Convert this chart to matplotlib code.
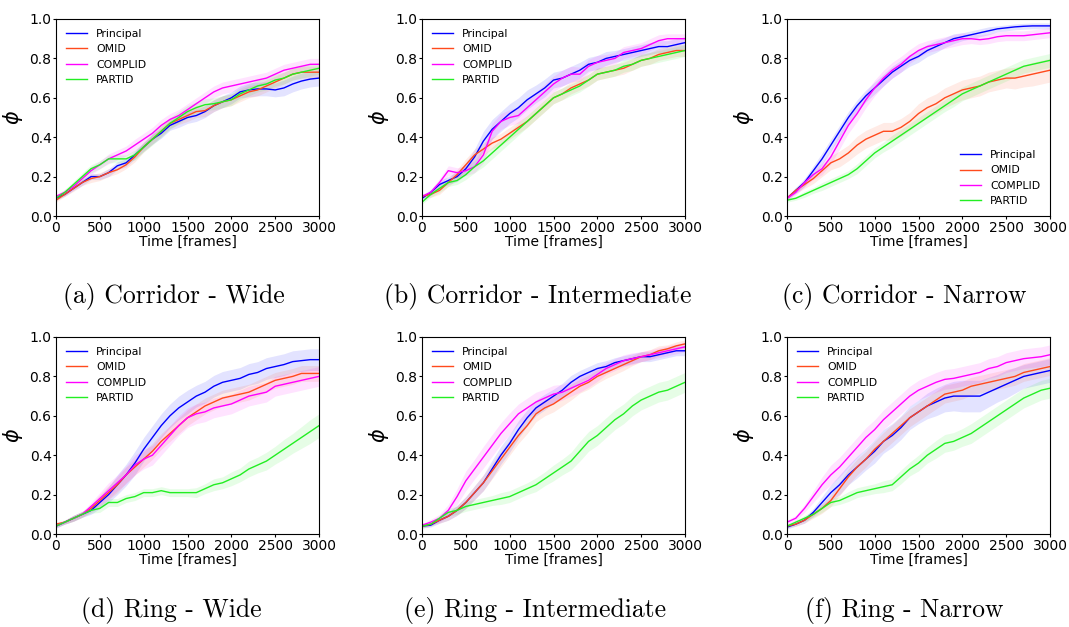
import numpy as np
import matplotlib
matplotlib.use("Agg")
import matplotlib.pyplot as plt

frames = list(range(0, 3001, 100))
series_names = ["Principal", "OMID", "COMPLID", "PARTID"]
series_colors = ["#0000ff", "#ff4a1c", "#ff00ff", "#22ee22"]
captions = ["(a) Corridor - Wide", "(b) Corridor - Intermediate", "(c) Corridor - Narrow",
            "(d) Ring - Wide", "(e) Ring - Intermediate", "(f) Ring - Narrow"]

# ---- (a) Corridor - Wide ----
cw_principal = [0.09,0.11,0.14,0.17,0.20,0.20,0.22,0.255,0.27,0.31,0.35,0.39,0.42,0.46,0.48,0.50,0.51,0.53,0.56,0.58,0.60,0.63,0.64,0.645,0.645,0.64,0.65,0.67,0.685,0.695,0.70]
cw_omid      = [0.08,0.11,0.14,0.17,0.19,0.20,0.22,0.235,0.26,0.30,0.35,0.39,0.43,0.47,0.49,0.51,0.53,0.535,0.56,0.58,0.59,0.61,0.63,0.64,0.66,0.68,0.70,0.72,0.73,0.73,0.73]
cw_complid   = [0.10,0.12,0.15,0.19,0.23,0.26,0.29,0.31,0.33,0.36,0.39,0.42,0.46,0.49,0.51,0.54,0.57,0.60,0.63,0.65,0.66,0.67,0.68,0.69,0.70,0.72,0.74,0.75,0.76,0.77,0.77]
cw_partid    = [0.09,0.12,0.16,0.20,0.24,0.26,0.29,0.29,0.29,0.31,0.35,0.39,0.43,0.47,0.50,0.53,0.55,0.565,0.57,0.58,0.59,0.62,0.64,0.66,0.67,0.69,0.70,0.72,0.73,0.74,0.75]
cw_principal_sd = [0.01,0.01,0.01,0.015,0.015,0.015,0.02,0.02,0.02,0.02,0.02,0.025,0.025,0.025,0.03,0.03,0.03,0.03,0.03,0.03,0.03,0.03,0.035,0.035,0.035,0.035,0.04,0.04,0.04,0.04,0.04]
cw_omid_sd      = [0.01,0.01,0.015,0.015,0.02,0.02,0.02,0.02,0.02,0.025,0.025,0.025,0.025,0.025,0.025,0.03,0.03,0.03,0.03,0.03,0.03,0.03,0.03,0.03,0.03,0.03,0.03,0.03,0.03,0.03,0.03]
cw_complid_sd   = [0.01,0.015,0.015,0.02,0.02,0.02,0.025,0.025,0.025,0.03,0.03,0.03,0.03,0.03,0.03,0.03,0.03,0.03,0.03,0.03,0.03,0.03,0.03,0.03,0.03,0.03,0.03,0.03,0.03,0.03,0.03]
cw_partid_sd    = [0.01,0.015,0.015,0.02,0.02,0.02,0.02,0.02,0.02,0.025,0.025,0.03,0.03,0.03,0.03,0.03,0.03,0.03,0.03,0.03,0.03,0.03,0.03,0.03,0.03,0.03,0.03,0.03,0.03,0.03,0.03]

# ---- (b) Corridor - Intermediate ----
ci_principal = [0.09,0.12,0.16,0.18,0.20,0.24,0.30,0.38,0.44,0.48,0.52,0.55,0.59,0.62,0.65,0.69,0.70,0.72,0.74,0.77,0.78,0.80,0.81,0.82,0.83,0.84,0.85,0.86,0.86,0.87,0.88]
ci_omid      = [0.10,0.11,0.13,0.17,0.21,0.26,0.31,0.34,0.37,0.39,0.42,0.45,0.48,0.52,0.56,0.60,0.62,0.65,0.67,0.69,0.72,0.73,0.74,0.75,0.77,0.79,0.80,0.82,0.83,0.84,0.84]
ci_complid   = [0.10,0.12,0.17,0.23,0.22,0.23,0.25,0.31,0.43,0.48,0.50,0.51,0.55,0.59,0.63,0.67,0.70,0.72,0.72,0.76,0.78,0.79,0.80,0.83,0.84,0.85,0.87,0.89,0.90,0.90,0.90]
ci_partid    = [0.07,0.11,0.14,0.17,0.18,0.21,0.25,0.28,0.32,0.36,0.40,0.44,0.48,0.52,0.56,0.60,0.62,0.64,0.66,0.69,0.72,0.73,0.74,0.76,0.77,0.79,0.80,0.81,0.82,0.83,0.84]
ci_principal_sd = [0.01,0.015,0.02,0.02,0.025,0.03,0.04,0.05,0.05,0.05,0.05,0.05,0.05,0.045,0.045,0.04,0.04,0.04,0.04,0.035,0.035,0.035,0.03,0.03,0.03,0.03,0.03,0.03,0.03,0.03,0.03]
ci_omid_sd      = [0.01,0.015,0.02,0.02,0.025,0.03,0.03,0.03,0.03,0.03,0.03,0.03,0.03,0.03,0.03,0.03,0.03,0.03,0.03,0.03,0.03,0.03,0.03,0.03,0.03,0.03,0.03,0.03,0.03,0.03,0.03]
ci_complid_sd   = [0.01,0.015,0.02,0.025,0.025,0.025,0.03,0.04,0.04,0.04,0.04,0.04,0.04,0.04,0.04,0.04,0.04,0.04,0.035,0.035,0.035,0.03,0.03,0.03,0.03,0.03,0.03,0.03,0.025,0.025,0.025]
ci_partid_sd    = [0.01,0.015,0.02,0.02,0.02,0.025,0.03,0.03,0.03,0.03,0.03,0.03,0.03,0.03,0.03,0.03,0.03,0.03,0.03,0.03,0.03,0.03,0.03,0.03,0.03,0.03,0.03,0.03,0.03,0.03,0.03]

# ---- (c) Corridor - Narrow ----
cn_principal = [0.09,0.13,0.17,0.23,0.29,0.36,0.43,0.50,0.56,0.61,0.65,0.69,0.73,0.76,0.79,0.81,0.84,0.86,0.88,0.90,0.91,0.92,0.93,0.94,0.95,0.955,0.96,0.963,0.965,0.965,0.965]
cn_omid      = [0.09,0.13,0.16,0.19,0.23,0.27,0.29,0.32,0.36,0.39,0.41,0.43,0.43,0.45,0.48,0.52,0.55,0.57,0.60,0.62,0.64,0.65,0.66,0.68,0.69,0.70,0.70,0.71,0.72,0.73,0.74]
cn_complid   = [0.09,0.12,0.17,0.21,0.24,0.30,0.38,0.46,0.52,0.59,0.65,0.70,0.74,0.77,0.81,0.84,0.86,0.87,0.88,0.89,0.90,0.90,0.895,0.90,0.91,0.915,0.915,0.915,0.92,0.925,0.93]
cn_partid    = [0.08,0.09,0.11,0.13,0.15,0.17,0.19,0.21,0.24,0.28,0.32,0.35,0.38,0.41,0.44,0.47,0.50,0.53,0.56,0.59,0.62,0.64,0.66,0.68,0.70,0.72,0.74,0.76,0.77,0.78,0.79]
cn_principal_sd = [0.01,0.015,0.02,0.025,0.03,0.03,0.03,0.03,0.03,0.03,0.03,0.03,0.03,0.03,0.03,0.03,0.03,0.03,0.025,0.025,0.02,0.02,0.02,0.02,0.015,0.015,0.015,0.015,0.015,0.015,0.015]
cn_omid_sd      = [0.01,0.015,0.02,0.025,0.03,0.035,0.04,0.04,0.045,0.045,0.045,0.045,0.045,0.045,0.045,0.05,0.05,0.05,0.05,0.05,0.05,0.05,0.05,0.05,0.05,0.05,0.055,0.055,0.06,0.06,0.06]
cn_complid_sd   = [0.01,0.015,0.02,0.025,0.03,0.035,0.04,0.04,0.04,0.04,0.04,0.04,0.04,0.04,0.035,0.035,0.03,0.03,0.03,0.03,0.03,0.025,0.025,0.025,0.025,0.025,0.025,0.025,0.025,0.025,0.025]
cn_partid_sd    = [0.01,0.01,0.015,0.015,0.02,0.02,0.02,0.02,0.025,0.025,0.025,0.025,0.03,0.03,0.03,0.03,0.03,0.03,0.03,0.035,0.035,0.035,0.035,0.035,0.035,0.035,0.035,0.035,0.035,0.035,0.035]

# ---- (d) Ring - Wide ----
rw_principal = [0.04,0.06,0.08,0.10,0.12,0.16,0.20,0.25,0.30,0.36,0.43,0.49,0.55,0.60,0.64,0.67,0.70,0.72,0.75,0.77,0.78,0.79,0.81,0.82,0.84,0.85,0.86,0.875,0.88,0.885,0.885]
rw_omid      = [0.05,0.06,0.08,0.10,0.13,0.17,0.21,0.25,0.30,0.34,0.38,0.42,0.47,0.51,0.55,0.59,0.62,0.65,0.67,0.69,0.70,0.71,0.72,0.74,0.76,0.78,0.79,0.80,0.815,0.815,0.815]
rw_complid   = [0.04,0.06,0.08,0.10,0.14,0.18,0.22,0.26,0.30,0.35,0.38,0.40,0.45,0.50,0.55,0.59,0.61,0.62,0.64,0.65,0.66,0.68,0.70,0.71,0.72,0.75,0.76,0.77,0.78,0.79,0.80]
rw_partid    = [0.04,0.06,0.08,0.10,0.12,0.13,0.16,0.16,0.18,0.19,0.21,0.21,0.22,0.21,0.21,0.21,0.21,0.23,0.25,0.26,0.28,0.30,0.33,0.35,0.37,0.40,0.43,0.46,0.49,0.52,0.55]
rw_principal_sd = [0.01,0.01,0.015,0.015,0.02,0.03,0.04,0.05,0.055,0.06,0.06,0.06,0.06,0.06,0.06,0.06,0.055,0.055,0.055,0.055,0.055,0.055,0.055,0.055,0.055,0.055,0.055,0.055,0.055,0.055,0.055]
rw_omid_sd      = [0.01,0.01,0.015,0.015,0.02,0.03,0.035,0.04,0.04,0.04,0.04,0.04,0.04,0.04,0.04,0.04,0.04,0.04,0.04,0.04,0.04,0.04,0.04,0.04,0.04,0.04,0.04,0.04,0.04,0.04,0.04]
rw_complid_sd   = [0.01,0.01,0.015,0.015,0.02,0.03,0.04,0.04,0.045,0.05,0.05,0.05,0.05,0.05,0.05,0.05,0.05,0.05,0.05,0.05,0.05,0.05,0.05,0.05,0.05,0.05,0.05,0.05,0.05,0.05,0.05]
rw_partid_sd    = [0.01,0.01,0.015,0.015,0.015,0.02,0.02,0.02,0.02,0.02,0.02,0.02,0.02,0.02,0.02,0.02,0.025,0.025,0.03,0.03,0.035,0.035,0.04,0.04,0.045,0.045,0.05,0.05,0.055,0.06,0.06]

# ---- (e) Ring - Intermediate ----
ri_principal = [0.04,0.045,0.07,0.09,0.12,0.16,0.21,0.26,0.33,0.40,0.46,0.53,0.59,0.64,0.67,0.70,0.73,0.77,0.80,0.82,0.84,0.85,0.87,0.88,0.89,0.90,0.90,0.91,0.92,0.93,0.93]
ri_omid      = [0.04,0.05,0.07,0.09,0.12,0.16,0.21,0.26,0.32,0.38,0.44,0.50,0.55,0.61,0.64,0.66,0.69,0.72,0.75,0.77,0.80,0.82,0.84,0.86,0.88,0.90,0.91,0.93,0.94,0.955,0.965]
ri_complid   = [0.045,0.06,0.08,0.12,0.19,0.27,0.33,0.39,0.45,0.51,0.56,0.61,0.64,0.67,0.69,0.71,0.72,0.74,0.76,0.78,0.81,0.84,0.86,0.88,0.89,0.90,0.91,0.92,0.93,0.94,0.95]
ri_partid    = [0.04,0.05,0.08,0.11,0.12,0.14,0.15,0.16,0.17,0.18,0.19,0.21,0.23,0.25,0.28,0.31,0.34,0.37,0.42,0.47,0.50,0.54,0.58,0.61,0.65,0.68,0.70,0.72,0.73,0.75,0.77]
ri_principal_sd = [0.01,0.01,0.015,0.02,0.025,0.03,0.035,0.04,0.045,0.045,0.045,0.045,0.04,0.04,0.04,0.035,0.035,0.035,0.03,0.03,0.03,0.03,0.025,0.025,0.025,0.025,0.025,0.025,0.025,0.025,0.025]
ri_omid_sd      = [0.01,0.01,0.015,0.02,0.025,0.03,0.035,0.04,0.04,0.04,0.04,0.04,0.04,0.04,0.04,0.04,0.04,0.04,0.035,0.035,0.035,0.03,0.03,0.03,0.025,0.025,0.025,0.025,0.02,0.02,0.02]
ri_complid_sd   = [0.01,0.015,0.02,0.03,0.04,0.05,0.05,0.055,0.055,0.055,0.055,0.05,0.05,0.05,0.045,0.045,0.04,0.04,0.04,0.035,0.035,0.03,0.03,0.03,0.03,0.025,0.025,0.025,0.025,0.025,0.025]
ri_partid_sd    = [0.01,0.01,0.015,0.02,0.02,0.025,0.025,0.025,0.025,0.03,0.03,0.03,0.03,0.035,0.035,0.04,0.04,0.045,0.05,0.05,0.05,0.05,0.05,0.05,0.05,0.05,0.05,0.05,0.05,0.05,0.05]

# ---- (f) Ring - Narrow ----
rn_principal = [0.035,0.05,0.07,0.11,0.16,0.21,0.25,0.30,0.34,0.38,0.42,0.47,0.50,0.54,0.59,0.62,0.65,0.67,0.69,0.70,0.70,0.70,0.70,0.72,0.74,0.76,0.78,0.80,0.81,0.82,0.83]
rn_omid      = [0.04,0.05,0.07,0.10,0.13,0.17,0.23,0.29,0.34,0.38,0.43,0.47,0.51,0.55,0.59,0.62,0.65,0.68,0.71,0.72,0.73,0.75,0.76,0.77,0.78,0.79,0.80,0.82,0.83,0.84,0.85]
rn_complid   = [0.06,0.08,0.13,0.19,0.25,0.30,0.34,0.39,0.44,0.49,0.53,0.58,0.62,0.66,0.70,0.73,0.75,0.77,0.785,0.79,0.80,0.81,0.82,0.84,0.85,0.87,0.88,0.89,0.895,0.90,0.91]
rn_partid    = [0.04,0.06,0.08,0.10,0.13,0.16,0.17,0.19,0.21,0.22,0.23,0.24,0.25,0.29,0.33,0.36,0.40,0.43,0.46,0.47,0.49,0.51,0.54,0.57,0.60,0.63,0.66,0.69,0.71,0.73,0.74]
rn_principal_sd = [0.01,0.01,0.015,0.02,0.03,0.04,0.05,0.05,0.055,0.055,0.06,0.06,0.06,0.06,0.06,0.06,0.065,0.07,0.07,0.075,0.08,0.08,0.08,0.075,0.07,0.07,0.065,0.06,0.06,0.06,0.06]
rn_omid_sd      = [0.01,0.01,0.015,0.02,0.025,0.03,0.035,0.04,0.04,0.04,0.04,0.045,0.045,0.045,0.045,0.045,0.045,0.045,0.045,0.045,0.045,0.045,0.045,0.045,0.045,0.045,0.045,0.045,0.045,0.045,0.045]
rn_complid_sd   = [0.01,0.015,0.02,0.03,0.04,0.05,0.05,0.05,0.05,0.05,0.05,0.05,0.05,0.05,0.05,0.05,0.05,0.05,0.05,0.05,0.05,0.05,0.05,0.05,0.05,0.05,0.05,0.05,0.05,0.05,0.05]
rn_partid_sd    = [0.01,0.01,0.015,0.015,0.02,0.02,0.02,0.025,0.025,0.025,0.025,0.03,0.03,0.035,0.035,0.04,0.04,0.045,0.045,0.045,0.045,0.05,0.05,0.05,0.05,0.05,0.05,0.05,0.05,0.05,0.05]

panels = [
    ([cw_principal, cw_omid, cw_complid, cw_partid], [cw_principal_sd, cw_omid_sd, cw_complid_sd, cw_partid_sd], "upper left"),
    ([ci_principal, ci_omid, ci_complid, ci_partid], [ci_principal_sd, ci_omid_sd, ci_complid_sd, ci_partid_sd], "upper left"),
    ([cn_principal, cn_omid, cn_complid, cn_partid], [cn_principal_sd, cn_omid_sd, cn_complid_sd, cn_partid_sd], "lower right"),
    ([rw_principal, rw_omid, rw_complid, rw_partid], [rw_principal_sd, rw_omid_sd, rw_complid_sd, rw_partid_sd], "upper left"),
    ([ri_principal, ri_omid, ri_complid, ri_partid], [ri_principal_sd, ri_omid_sd, ri_complid_sd, ri_partid_sd], "upper left"),
    ([rn_principal, rn_omid, rn_complid, rn_partid], [rn_principal_sd, rn_omid_sd, rn_complid_sd, rn_partid_sd], "upper left"),
]

W, H = 1069, 627
fig = plt.figure(figsize=(W / 100, H / 100), dpi=100)

col_left = [56, 422, 787]
row_top = [19, 337]
ax_w, ax_h = 263, 197
cap_x = [[174, 538, 904], [171, 535, 904]]
cap_y = [297, 611]

x = np.array(frames)
for i, (means, sds, loc) in enumerate(panels):
    r, c = divmod(i, 3)
    ax = fig.add_axes([col_left[c] / W, 1 - (row_top[r] + ax_h) / H, ax_w / W, ax_h / H])
    for name, col, m, s in zip(series_names, series_colors, means, sds):
        m = np.array(m)
        s = np.array(s)
        ax.fill_between(x, m - s, m + s, color=col, alpha=0.11, linewidth=0)
        ax.plot(x, m, color=col, lw=1.0, label=name)
    ax.set_xlim(0, 3000)
    ax.set_ylim(0, 1.0)
    ax.set_xticks([0, 500, 1000, 1500, 2000, 2500, 3000])
    ax.set_yticks([0.0, 0.2, 0.4, 0.6, 0.8, 1.0])
    ax.tick_params(axis="both", labelsize=10, length=2.2, width=0.8)
    ax.tick_params(axis="y", pad=1.0)
    ax.tick_params(axis="x", pad=1.5)
    ax.set_xlabel("Time [frames]", fontsize=10, labelpad=0)
    ax.set_ylabel(r"$\phi$", fontsize=15, labelpad=3)
    ax.legend(loc=loc, fontsize=7.8, frameon=False)
    fig.text(cap_x[r][c] / W, 1 - cap_y[r] / H, captions[i], family="cmr10",
             fontsize=18.5, ha="center", va="center")

fig.savefig("out.png", dpi=100)
